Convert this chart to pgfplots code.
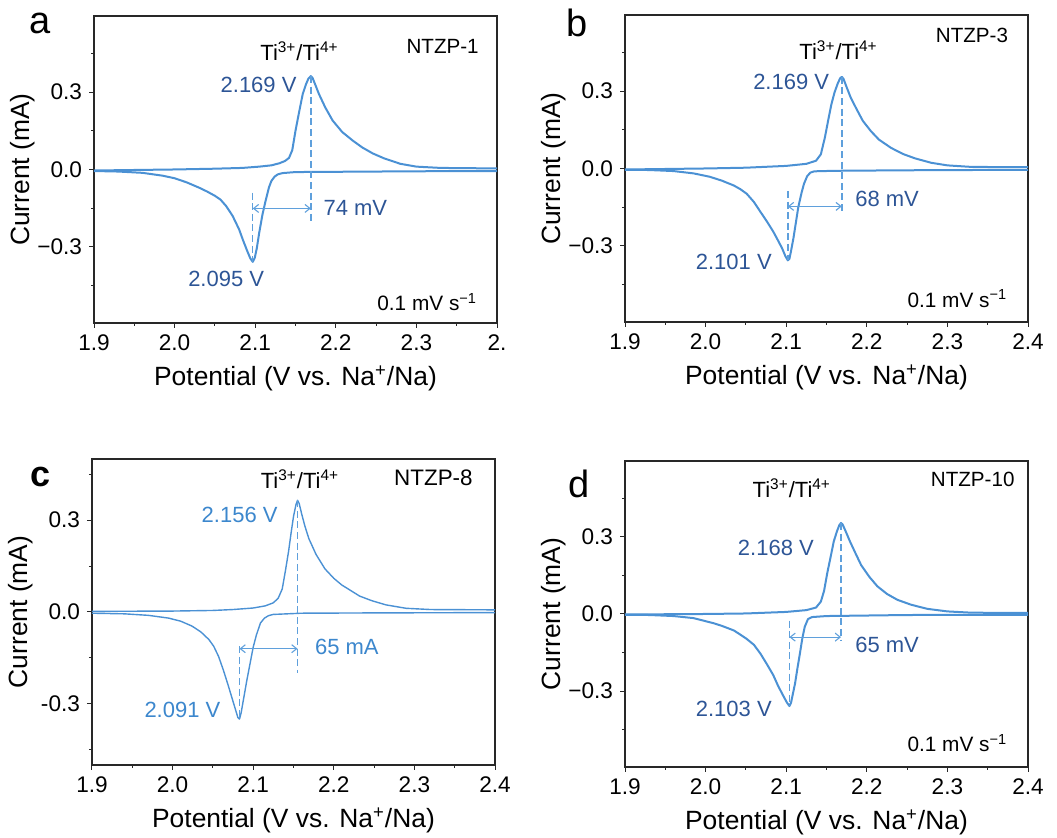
\documentclass[border=0pt]{standalone}
\usepackage{fontspec}
\setmainfont{Liberation Sans}
\usepackage{pgfplots}
\pgfplotsset{compat=1.18}
\usetikzlibrary{arrows.meta}
\definecolor{cvblue}{RGB}{75,145,212}
\definecolor{dshblue}{RGB}{95,160,220}
\definecolor{annoblue}{RGB}{45,85,150}
\definecolor{cblue}{RGB}{60,135,205}
\definecolor{axgray}{RGB}{40,40,40}
\newcommand{\fs}[1]{\fontsize{#1}{#1}\selectfont}
\pgfplotsset{
  panel/.style={
    scale only axis, width=201.5pt, height=153.5pt,
    xmin=1.9, xmax=2.4, ymin=-0.595, ymax=0.595,
    axis line style={line width=0.6pt, color=axgray},
    tick align=outside,
    xtick={1.9,2.0,2.1,2.2,2.3,2.4},
    xticklabels={1.9,2.0,2.1,2.2,2.3,2.4},
    minor xtick={1.95,2.05,2.15,2.25,2.35},
    ytick={-0.3,0,0.3},
    yticklabels={−0.3,0.0,0.3},
    minor ytick={-0.45,-0.15,0.15,0.45},
    xtick pos=bottom, ytick pos=left,
    tick style={axgray, line width=0.5pt},
    major tick length=2.5pt, minor tick length=1.5pt,
    tick label style={font=\fs{11.3}},
    label style={font=\fs{13.2}},
    xlabel={Potential (V vs. Na\textsuperscript{+}/Na)},
    ylabel={Current (mA)},
    xlabel style={at={(axis description cs:0.5,-0.18)}, anchor=center},
    ylabel style={at={(axis description cs:-0.176,0.5)}, anchor=center},
    clip=false,
  },
  cv/.style={cvblue, line width=1pt, line join=round},
  dsh/.style={dshblue, line width=0.7pt, dash pattern=on 3.5pt off 1.8pt},
  arr/.style={dshblue, line width=0.55pt, {Straight Barb[length=2.5pt,width=4pt]}-{Straight Barb[length=2.5pt,width=4pt]}},
}
\begin{document}
\begin{tikzpicture}
\useasboundingbox (0,0) rectangle (528.5pt,419pt);
% ---------------- panel a
\begin{axis}[panel, at={(47pt,257.5pt)}, anchor=south west,
  xticklabels={1.9,2.0,2.1,2.2,2.3,2.}]
\addplot[cv] coordinates {
(1.900,-0.004) (1.950,-0.002) (2.000,0.000) (2.050,0.003) (2.084,0.006) (2.105,0.011)
(2.120,0.016) (2.130,0.024) (2.137,0.033) (2.142,0.045) (2.146,0.075) (2.150,0.150)
(2.154,0.215) (2.159,0.293) (2.163,0.330) (2.166,0.352) (2.169,0.362) (2.171,0.356)
(2.174,0.333) (2.179,0.293) (2.187,0.240) (2.196,0.190) (2.208,0.145) (2.221,0.112)
(2.233,0.085) (2.246,0.062) (2.260,0.043) (2.280,0.022) (2.300,0.011) (2.330,0.006) (2.400,0.004)};
\addplot[cv] coordinates {
(2.400,-0.006) (2.300,-0.007) (2.200,-0.009) (2.150,-0.010) (2.134,-0.014) (2.128,-0.019)
(2.124,-0.028) (2.120,-0.045) (2.117,-0.070) (2.113,-0.120) (2.109,-0.175) (2.105,-0.245)
(2.102,-0.305) (2.0995,-0.342) (2.097,-0.358) (2.094,-0.345) (2.090,-0.315) (2.085,-0.275)
(2.080,-0.232) (2.072,-0.180) (2.064,-0.142) (2.057,-0.117) (2.050,-0.102) (2.040,-0.085)
(2.030,-0.070) (2.015,-0.050) (2.000,-0.034) (1.985,-0.024) (1.960,-0.013) (1.930,-0.008) (1.900,-0.006)};
\addplot[dsh] coordinates {(2.169,0.362) (2.169,-0.2)};
\addplot[dsh] coordinates {(2.097,-0.09) (2.097,-0.358)};
\addplot[arr] coordinates {(2.097,-0.151) (2.169,-0.151)};
\node[font=\fs{11}] at (axis cs:2.155,0.457) {Ti\textsuperscript{3+}/Ti\textsuperscript{4+}};
\node[font=\fs{10.3}, anchor=east] at (axis cs:2.386,0.476) {NTZP-1};
\node[font=\fs{11}, text=annoblue, anchor=east] at (axis cs:2.160,0.327) {2.169 V};
\node[font=\fs{11}, text=annoblue, anchor=west] at (axis cs:2.176,-0.151) {74 mV};
\node[font=\fs{11}, text=annoblue] at (axis cs:2.064,-0.423) {2.095 V};
\node[font=\fs{10.4}, anchor=east] at (axis cs:2.384,-0.514) {0.1 mV s\textsuperscript{−1}};
\node[font=\fs{19}] at (rel axis cs:-0.134,0.977) {a};
\end{axis}
% ---------------- panel b
\begin{axis}[panel, at={(312.5pt,258pt)}, anchor=south west]
\addplot[cv] coordinates {
(1.900,-0.004) (2.000,0.000) (2.050,0.003) (2.100,0.010) (2.125,0.018) (2.137,0.030)
(2.143,0.055) (2.148,0.120) (2.152,0.185) (2.156,0.248) (2.160,0.295) (2.164,0.330)
(2.167,0.350) (2.169,0.355) (2.171,0.348) (2.175,0.315) (2.180,0.275) (2.187,0.232)
(2.195,0.185) (2.205,0.145) (2.215,0.112) (2.230,0.080) (2.245,0.056) (2.260,0.039)
(2.280,0.022) (2.300,0.012) (2.330,0.006) (2.400,0.005)};
\addplot[cv] coordinates {
(2.400,-0.005) (2.250,-0.007) (2.160,-0.009) (2.135,-0.011) (2.130,-0.016) (2.126,-0.030)
(2.122,-0.060) (2.119,-0.095) (2.115,-0.150) (2.112,-0.210) (2.109,-0.270) (2.106,-0.320)
(2.104,-0.350) (2.102,-0.356) (2.099,-0.340) (2.095,-0.310) (2.090,-0.280) (2.084,-0.245)
(2.076,-0.205) (2.068,-0.168) (2.060,-0.130) (2.051,-0.098) (2.043,-0.080) (2.035,-0.066)
(2.020,-0.047) (2.005,-0.032) (1.985,-0.019) (1.960,-0.010) (1.930,-0.006) (1.900,-0.005)};
\addplot[dsh] coordinates {(2.169,0.355) (2.169,-0.17)};
\addplot[dsh] coordinates {(2.102,-0.087) (2.102,-0.356)};
\addplot[arr] coordinates {(2.102,-0.147) (2.169,-0.147)};
\node[font=\fs{11}] at (axis cs:2.165,0.458) {Ti\textsuperscript{3+}/Ti\textsuperscript{4+}};
\node[font=\fs{10.3}, anchor=east] at (axis cs:2.384,0.515) {NTZP-3};
\node[font=\fs{11}, text=annoblue, anchor=east] at (axis cs:2.162,0.336) {2.169 V};
\node[font=\fs{11}, text=annoblue, anchor=west] at (axis cs:2.177,-0.119) {68 mV};
\node[font=\fs{11}, text=annoblue] at (axis cs:2.035,-0.363) {2.101 V};
\node[font=\fs{10.4}, anchor=east] at (axis cs:2.383,-0.504) {0.1 mV s\textsuperscript{−1}};
\node[font=\fs{19}] at (rel axis cs:-0.12,0.975) {b};
\end{axis}
% ---------------- panel c
\begin{axis}[panel, at={(46pt,36.5pt)}, anchor=south west, height=153pt,
  ymin=-0.5, ymax=0.5, yticklabels={-0.3,0.0,0.3}]
\addplot[cv, line width=0.7pt] coordinates {
(1.900,0.002) (2.000,0.003) (2.050,0.005) (2.075,0.008) (2.100,0.013) (2.115,0.020)
(2.125,0.030) (2.131,0.045) (2.136,0.075) (2.140,0.135) (2.144,0.200) (2.147,0.258)
(2.150,0.312) (2.153,0.350) (2.155,0.365) (2.157,0.355) (2.160,0.322) (2.164,0.282)
(2.169,0.240) (2.178,0.188) (2.189,0.141) (2.200,0.110) (2.210,0.088) (2.218,0.075)
(2.232,0.052) (2.247,0.037) (2.265,0.023) (2.290,0.012) (2.320,0.008) (2.400,0.007)};
\addplot[cv, line width=0.7pt] coordinates {
(2.400,-0.002) (2.250,-0.003) (2.160,-0.004) (2.125,-0.008) (2.119,-0.012) (2.114,-0.020)
(2.109,-0.036) (2.104,-0.075) (2.100,-0.115) (2.096,-0.170) (2.092,-0.225) (2.088,-0.285)
(2.085,-0.330) (2.083,-0.350) (2.081,-0.345) (2.077,-0.310) (2.073,-0.275) (2.069,-0.240)
(2.063,-0.190) (2.057,-0.145) (2.051,-0.112) (2.045,-0.090) (2.035,-0.065) (2.024,-0.046)
(2.010,-0.030) (1.995,-0.020) (1.970,-0.011) (1.940,-0.006) (1.900,-0.004)};
\addplot[dsh] coordinates {(2.155,0.365) (2.155,-0.2)};
\addplot[dsh] coordinates {(2.083,-0.112) (2.083,-0.35)};
\addplot[arr] coordinates {(2.083,-0.12) (2.155,-0.12)};
\node[font=\fs{11}] at (axis cs:2.158,0.434) {Ti\textsuperscript{3+}/Ti\textsuperscript{4+}};
\node[font=\fs{11.2}, anchor=east] at (axis cs:2.381,0.438) {NTZP-8};
\node[font=\fs{11}, text=cblue, anchor=east] at (axis cs:2.139,0.318) {2.156 V};
\node[font=\fs{11}, text=cblue, anchor=west] at (axis cs:2.168,-0.114) {65 mA};
\node[font=\fs{11}, text=cblue, anchor=east] at (axis cs:2.068,-0.32) {2.091 V};
\node[font=\bfseries\fs{18}] at (rel axis cs:-0.128,0.94) {c};
\end{axis}
% ---------------- panel d
\begin{axis}[panel, at={(312.5pt,35.5pt)}, anchor=south west, height=153pt]
\addplot[cv] coordinates {
(1.900,-0.002) (2.000,0.000) (2.050,0.002) (2.100,0.008) (2.125,0.015) (2.137,0.025)
(2.143,0.048) (2.147,0.090) (2.151,0.160) (2.155,0.220) (2.159,0.282) (2.163,0.322)
(2.166,0.346) (2.168,0.354) (2.170,0.348) (2.174,0.320) (2.179,0.283) (2.186,0.236)
(2.193,0.190) (2.203,0.145) (2.213,0.108) (2.225,0.078) (2.238,0.055) (2.255,0.036)
(2.275,0.020) (2.300,0.010) (2.330,0.005) (2.400,0.004)};
\addplot[cv] coordinates {
(2.400,-0.003) (2.250,-0.004) (2.150,-0.008) (2.132,-0.012) (2.127,-0.020) (2.123,-0.050)
(2.120,-0.095) (2.117,-0.154) (2.114,-0.210) (2.111,-0.270) (2.108,-0.315) (2.106,-0.345)
(2.104,-0.358) (2.101,-0.345) (2.097,-0.322) (2.090,-0.280) (2.084,-0.238) (2.076,-0.195)
(2.068,-0.154) (2.060,-0.120) (2.051,-0.097) (2.043,-0.080) (2.035,-0.064) (2.020,-0.046)
(2.010,-0.036) (1.995,-0.024) (1.985,-0.016) (1.960,-0.008) (1.930,-0.004) (1.900,-0.003)};
\addplot[dsh] coordinates {(2.168,0.354) (2.168,-0.103)};
\addplot[dsh] coordinates {(2.104,-0.026) (2.104,-0.358)};
\addplot[arr] coordinates {(2.104,-0.09) (2.168,-0.09)};
\node[font=\fs{11}] at (axis cs:2.107,0.489) {Ti\textsuperscript{3+}/Ti\textsuperscript{4+}};
\node[font=\fs{10.3}, anchor=east] at (axis cs:2.392,0.525) {NTZP-10};
\node[font=\fs{11}, text=annoblue, anchor=east] at (axis cs:2.143,0.257) {2.168 V};
\node[font=\fs{11}, text=annoblue, anchor=west] at (axis cs:2.177,-0.122) {65 mV};
\node[font=\fs{11}, text=annoblue] at (axis cs:2.035,-0.371) {2.103 V};
\node[font=\fs{10.4}, anchor=east] at (axis cs:2.383,-0.502) {0.1 mV s\textsuperscript{−1}};
\node[font=\fs{19}] at (rel axis cs:-0.115,0.925) {d};
\end{axis}
\end{tikzpicture}
\end{document}
